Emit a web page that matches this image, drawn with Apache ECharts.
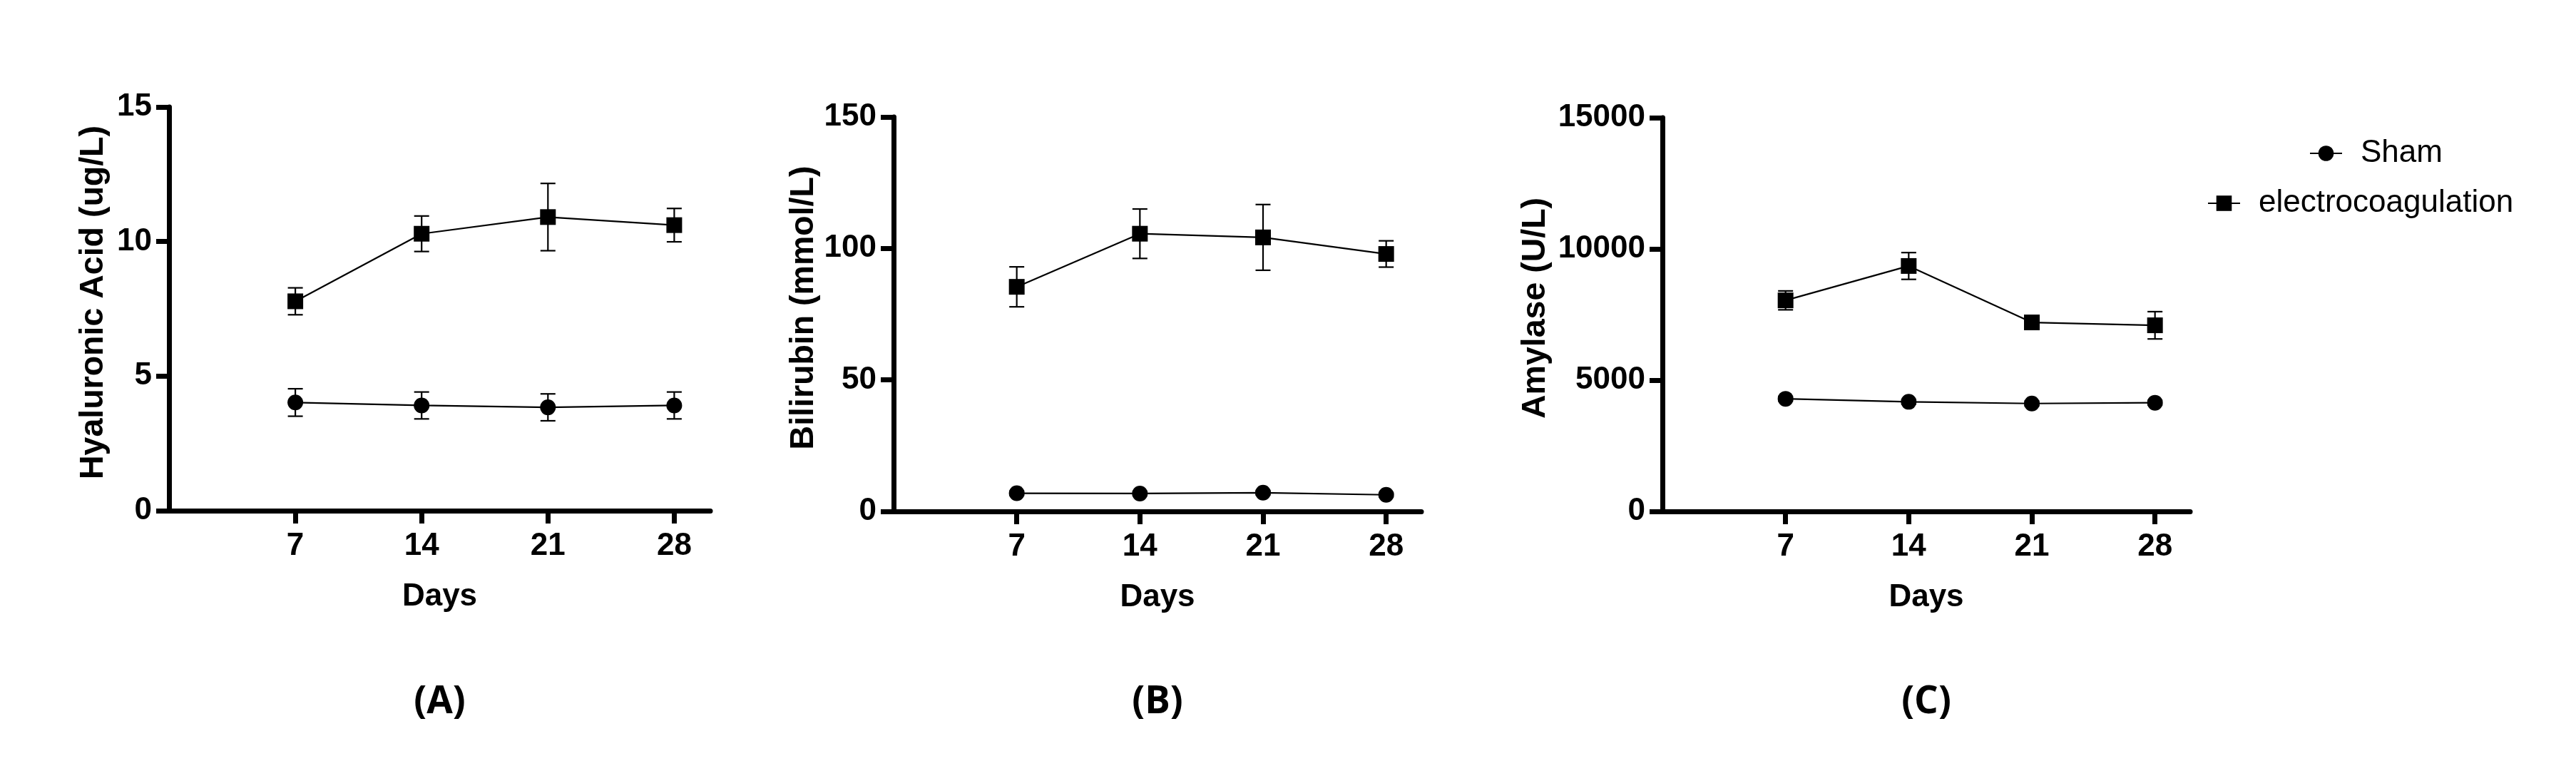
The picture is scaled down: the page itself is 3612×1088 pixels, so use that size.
<!DOCTYPE html>
<html>
<head>
<meta charset="utf-8">
<title>Serum markers after electrocoagulation</title>
<script src="https://cdn.jsdelivr.net/npm/echarts@6/dist/echarts.min.js"></script>
<style>
  html, body { margin: 0; padding: 0; background: #fff; }
  #chart { width: 3612px; height: 1088px; }
</style>
</head>
<body>
<div id="chart"></div>
<script>
// ── Data ─────────────────────────────────────────────────────────────────
var days = [7, 14, 21, 28]

// (A) Hyaluronic Acid, ug/L
var haSham        = [4.02, 3.91, 3.84, 3.91]
var haShamSd      = [0.51, 0.50, 0.50, 0.50]
var haElectro     = [7.78, 10.29, 10.91, 10.61]
var haElectroSd   = [0.50, 0.66, 1.25, 0.62]

// (B) Bilirubin, mmol/L
var biliSham      = [6.9, 6.8, 7.1, 6.3]
var biliShamSd    = [0.8, 0.8, 0.8, 0.8]
var biliElectro   = [85.4, 105.6, 104.2, 97.9]
var biliElectroSd = [7.6, 9.4, 12.5, 5.0]

// (C) Amylase, U/L
var amySham       = [4290, 4175, 4110, 4140]
var amyShamSd     = [90, 90, 90, 90]
var amyElectro    = [8040, 9350, 7200, 7090]
var amyElectroSd  = [360, 510, 150, 520]

var yTitles = ['Hyaluronic Acid (ug/L)', 'Bilirubin (mmol/L)', 'Amylase (U/L)']
var yMax    = [15, 150, 15000]
var yStep   = [5, 50, 5000]
var panelTags = ['(A)', '(B)', '(C)']

var BLACK = '#000'
var AXIS_W = 7

var myChart = echarts.init(document.getElementById('chart'), null, { renderer: 'canvas' })

/* ── helpers ─────────────────────────────────────────────────────────── */
function pts(vals) {
  return days.map(function(d, i) { return [d, vals[i]] })
}

function bars(vals, sd) {
  return days.map(function(d, i) { return [d, vals[i] - sd[i], vals[i] + sd[i]] })
}

function renderErr(params, api) {
  var x = api.value(0)
  var top = api.coord([x, api.value(2)])
  var bot = api.coord([x, api.value(1)])
  var half = 10.5
  var st = { stroke: BLACK, lineWidth: 2.2 }
  return {
    type: 'group',
    children: [
      { type: 'line', shape: { x1: top[0], y1: top[1], x2: bot[0], y2: bot[1] }, style: st },
      { type: 'line', shape: { x1: top[0] - half, y1: top[1], x2: top[0] + half, y2: top[1] }, style: st },
      { type: 'line', shape: { x1: bot[0] - half, y1: bot[1], x2: bot[0] + half, y2: bot[1] }, style: st }
    ]
  }
}

var SANS = 'Liberation Sans, Arial, sans-serif'
var tickFont = { fontFamily: SANS, fontWeight: 'bold', fontSize: 44, color: BLACK }

/* ── grids / axes ────────────────────────────────────────────────────── */
var grids = [
  { left: 237,  top: 150, width: 759, height: 566 },
  { left: 1253, top: 164, width: 740, height: 553 },
  { left: 2331, top: 165, width: 740, height: 552 }
]
var yNameGap = [82, 102, 154]

var xAxes = grids.map(function(g, i) {
  return {
    type: 'value', gridIndex: i, min: 0, max: 30, interval: 7,
    axisLine: { show: true, onZero: false, lineStyle: { color: BLACK, width: AXIS_W } },
    axisTick: { show: true, customValues: days, length: 18, lineStyle: { color: BLACK, width: AXIS_W } },
    axisLabel: Object.assign({ customValues: days, margin: 28 }, tickFont),
    splitLine: { show: false },
    name: 'Days', nameLocation: 'middle', nameGap: 99,
    nameTextStyle: { fontFamily: SANS, fontWeight: 'bold', fontSize: 44, color: BLACK }
  }
})

var yAxes = grids.map(function(g, i) {
  return {
    type: 'value', gridIndex: i, min: 0, max: yMax[i], interval: yStep[i],
    axisLine: { show: true, lineStyle: { color: BLACK, width: AXIS_W } },
    axisTick: { show: true, length: 18, lineStyle: { color: BLACK, width: AXIS_W } },
    axisLabel: Object.assign({ margin: 24, formatter: function(v) { return String(v) } }, tickFont),
    splitLine: { show: false },
    name: yTitles[i], nameLocation: 'middle', nameRotate: 90, nameGap: yNameGap[i],
    nameTextStyle: { fontFamily: SANS, fontWeight: 'bold', fontSize: 46.5, color: BLACK, padding: [0, 0, 0, 18] }
  }
})

/* ── series ──────────────────────────────────────────────────────────── */
var panels = [
  [haSham, haShamSd, haElectro, haElectroSd],
  [biliSham, biliShamSd, biliElectro, biliElectroSd],
  [amySham, amyShamSd, amyElectro, amyElectroSd]
]

var series = []
panels.forEach(function(p, i) {
  series.push({
    name: 'Sham err', type: 'custom', xAxisIndex: i, yAxisIndex: i, z: 1,
    renderItem: renderErr, encode: { x: 0, y: [1, 2] }, data: bars(p[0], p[1])
  })
  series.push({
    name: 'electrocoagulation err', type: 'custom', xAxisIndex: i, yAxisIndex: i, z: 1,
    renderItem: renderErr, encode: { x: 0, y: [1, 2] }, data: bars(p[2], p[3])
  })
  series.push({
    name: 'Sham', type: 'line', xAxisIndex: i, yAxisIndex: i, z: 3,
    symbol: 'circle', symbolSize: 22, showAllSymbol: true,
    itemStyle: { color: BLACK }, lineStyle: { color: BLACK, width: 2.2 },
    data: pts(p[0])
  })
  series.push({
    name: 'electrocoagulation', type: 'line', xAxisIndex: i, yAxisIndex: i, z: 3,
    symbol: 'rect', symbolSize: 22, showAllSymbol: true,
    itemStyle: { color: BLACK }, lineStyle: { color: BLACK, width: 2.2 },
    data: pts(p[2])
  })
})

var legendText = { fontFamily: SANS, fontSize: 44, color: BLACK, padding: [0, 0, 0, 21] }

myChart.setOption({
  backgroundColor: '#fff',
  animation: false,
  grid: grids,
  xAxis: xAxes,
  yAxis: yAxes,
  legend: [
    { data: ['Sham'], left: 3238, top: 193, padding: 0, itemWidth: 45, itemHeight: 27,
      textStyle: legendText, selectedMode: false },
    { data: ['electrocoagulation'], left: 3095, top: 263, padding: 0, itemWidth: 45, itemHeight: 27,
      textStyle: legendText, selectedMode: false }
  ],
  graphic: panelTags.map(function(t, i) {
    return {
      type: 'text',
      x: grids[i].left + grids[i].width / 2,
      y: 985,
      style: {
        text: t, textAlign: 'center', textVerticalAlign: 'middle',
        fontFamily: 'Open Sans, sans-serif', fontWeight: 'bold', fontSize: 53, fill: BLACK
      }
    }
  }),
  series: series
})

window.addEventListener('resize', function() { myChart.resize() })
</script>
</body>
</html>
